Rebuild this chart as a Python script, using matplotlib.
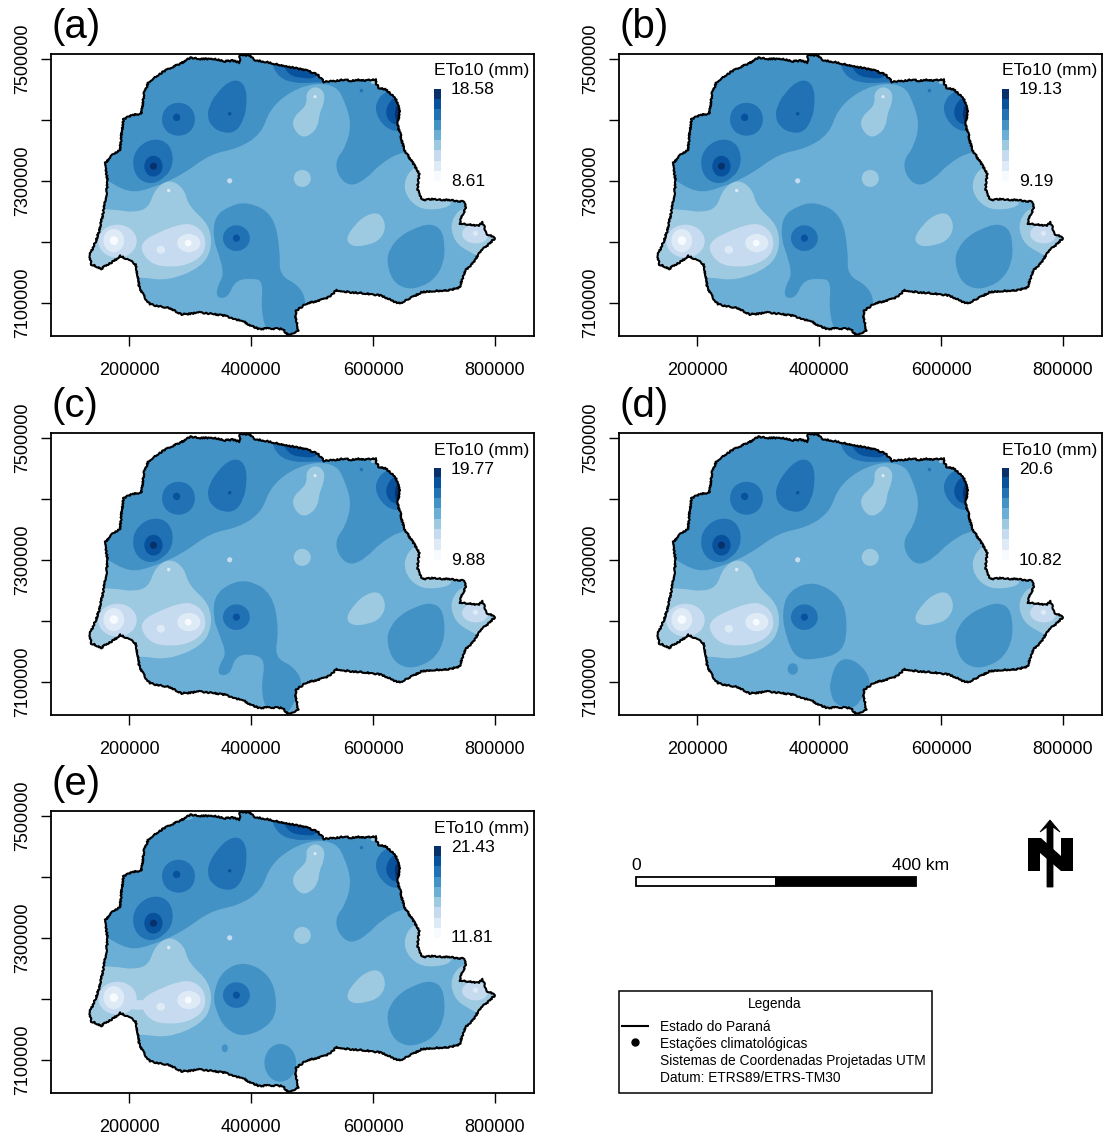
import matplotlib
matplotlib.use('Agg')
import matplotlib.pyplot as plt
from matplotlib.colors import ListedColormap
from matplotlib.path import Path
from matplotlib.patches import PathPatch, Ellipse, Rectangle, Polygon

plt.rcParams['font.family'] = ['Liberation Sans', 'DejaVu Sans']

W, H = 1103, 1135

# classes of the map, dark to light
blues = ['#08306B', '#08519C', '#2171B5', '#4292C6', '#6BAED6', '#9ECAE1', '#C6DBEF', '#DEEBF7', '#F7FBFF']
BASE, DARK5, DARK6, DARK7, DARK8 = blues[4], blues[3], blues[2], blues[1], blues[0]
LIGHT4, LIGHT3, LIGHT2, LIGHT1 = blues[5], blues[6], blues[7], blues[8]

panel_tags = ['(a)', '(b)', '(c)', '(d)', '(e)']
panel_max = ['18.58', '19.13', '19.77', '20.6', '21.43']
panel_min = ['8.61', '9.19', '9.88', '10.82', '11.81']
panel_left = [51, 619, 51, 619, 51]
panel_top = [54, 54, 433, 433, 811]
x_ticks = [200000, 400000, 600000, 800000]
y_ticks = [7100000, 7200000, 7300000, 7400000, 7500000]
y_labels = ['7100000', '', '7300000', '', '7500000']

# everything below is in km
parana = [(287,7494),(301,7502),(317,7500),(333,7500),(345,7499),(356,7496),(370,7497),(381,7494),(382,7507),(392,7506),
          (399,7505),(404,7499),(411,7497),(425,7495),(442,7491),(458,7488),(477,7484),(495,7480),(509,7474),(515,7468),
          (520,7462),(530,7464),(540,7464),(552,7466),(564,7464),(576,7466),(587,7464),(597,7466),(605,7466),(606,7458),
          (610,7452),(620,7450),(627,7445),(634,7438),(639,7431),(642,7420),(644,7410),(641,7398),(641,7388),(645,7376),
          (647,7366),(652,7350),(659,7339),(668,7325),(676,7311),(674,7300),(673,7287),(676,7277),(682,7268),(695,7270),
          (713,7269),(728,7268),(748,7266),(753,7257),(746,7243),(742,7229),(750,7229),(762,7228),(772,7226),(780,7232),
          (783,7222),(786,7213),(793,7210),(800,7206),(790,7196),(780,7188),(772,7178),(763,7164),(751,7153),(746,7138),
          (742,7125),(727,7121),(713,7120),(695,7119),(679,7117),(662,7108),(644,7099),(636,7101),(627,7106),(612,7112),
          (598,7114),(580,7116),(564,7117),(550,7119),(540,7121),(534,7114),(526,7109),(513,7104),(500,7101),(487,7096),
          (474,7087),(472,7077),(475,7068),(477,7054),(468,7050),(460,7047),(452,7057),(430,7058),(413,7057),(400,7062),
          (390,7068),(372,7074),(356,7079),(335,7082),(315,7084),(300,7082),(286,7081),(275,7087),(263,7092),(245,7095),
          (234,7098),(226,7108),(217,7125),(213,7150),(211,7163),(200,7170),(185,7177),(180,7172),(171,7166),(160,7160),
          (154,7155),(146,7160),(138,7163),(135,7177),(145,7200),(151,7218),(157,7245),(162,7273),(165,7300),(160,7328),
          (175,7345),(185,7350),(188,7380),(191,7401),(205,7408),(220,7410),(225,7445),(232,7462),(245,7472),(258,7480),
          (272,7487)]

north_band = [(120,7325),(160,7303),(200,7280),(235,7287),(286,7309),(333,7344),(379,7353),(417,7377),(431,7418),(465,7447),
              (506,7461),(540,7455),(553,7432),(565,7393),(555,7355),(538,7333),(543,7307),(563,7290),(590,7304),(612,7328),
              (650,7350),(720,7350),(720,7540),(100,7540)]
blob_west = [(310,7401),(302,7422),(281,7430),(260,7422),(252,7401),(260,7380),(281,7372),(302,7380)]
blob_mid = [(328,7405),(332,7425),(345,7445),(362,7462),(380,7466),(392,7452),(393,7425),(388,7400),(375,7380),(355,7378),(336,7388)]
blob_big = [(205,7325),(210,7350),(232,7368),(258,7367),(272,7348),(271,7322),(258,7305),(238,7294),(215,7302)]
ne_outer = [(603,7415),(608,7435),(622,7447),(645,7455),(670,7420),(660,7385),(635,7380),(615,7392)]
ne_inner = [(620,7415),(630,7435),(650,7440),(660,7400),(640,7390),(625,7398)]
top_outer = [(432,7495),(445,7470),(470,7460),(500,7461),(530,7462),(530,7500),(450,7510)]
top_inner = [(450,7495),(462,7473),(485,7468),(510,7468),(510,7500)]
se_blob = [(622,7168),(628,7190),(645,7210),(668,7222),(692,7230),(712,7222),(718,7195),(716,7165),(702,7140),(680,7126),(655,7122),(632,7135)]
streak = [(468,7388),(470,7405),(484,7417),(492,7428),(490,7445),(505,7456),(521,7446),(519,7425),(512,7410),(510,7390),(498,7375),(482,7371)]
mid_east = [(555,7205),(570,7228),(590,7245),(612,7248),(622,7225),(612,7203),(590,7194),(565,7192)]
east_lobe = [(680,7330),(655,7312),(650,7282),(672,7255),(705,7252),(735,7262),(710,7290)]
far_east = [(752,7262),(726,7235),(733,7200),(758,7183),(782,7172),(810,7206),(800,7250)]
far_east_in = [(742,7215),(762,7232),(792,7220),(785,7198),(755,7197)]
west_light = [(120,7130),(115,7255),(178,7253),(206,7248),(232,7255),(242,7286),(266,7303),(290,7288),(298,7258),(332,7228),
              (336,7188),(318,7158),(264,7136),(220,7142),(205,7140),(150,7130)]
west_mid = [(218,7188),(226,7204),(250,7216),(280,7228),(305,7230),(325,7212),(325,7182),(300,7163),(265,7158),(235,7164)]

center_ab = [(338,7205),(340,7240),(362,7258),(395,7266),(437,7245),(448,7185),(446,7145),(480,7128),(492,7098),(478,7068),
             (470,7035),(428,7045),(416,7087),(420,7136),(402,7140),(374,7137),(362,7108),(343,7108),(345,7128),(356,7146),(347,7180)]
center_c = [(338,7205),(340,7240),(362,7260),(395,7268),(435,7245),(446,7185),(438,7140),(470,7125),(486,7098),(472,7068),
            (455,7040),(425,7050),(416,7090),(424,7136),(402,7146),(374,7142),(366,7112),(346,7110),(348,7128),(360,7146),(347,7180)]
center_d = [(339,7213),(350,7250),(393,7266),(438,7238),(447,7195),(440,7148),(393,7136),(362,7138),(346,7173)]
south_d = [(418,7099),(428,7132),(449,7140),(475,7122),(486,7096),(472,7075),(456,7054),(425,7063),(418,7086)]
center_e = [(338,7208),(352,7246),(390,7262),(430,7240),(443,7200),(437,7160),(390,7136),(358,7150),(342,7181)]

# (level colour, x, y, width, height)
ovals = [(DARK6, 376, 7206, 44, 42), (DARK7, 240, 7324, 30, 34), (DARK8, 641, 7410, 10, 28),
         (LIGHT4, 484, 7304, 28, 28),
         (LIGHT3, 181, 7201, 63, 54), (LIGHT2, 175, 7202, 34, 38), (LIGHT1, 175, 7202, 14, 14)]
ovals_late = [(LIGHT2, 298, 7198, 38, 30), (LIGHT2, 252, 7187, 14, 13), (LIGHT1, 297, 7198, 11, 11)]
panel_ovals = {'(d)': [(DARK5, 357, 7121, 17, 19)],
               '(e)': [(DARK5, 448, 7095, 52, 62), (DARK5, 357, 7119, 10, 13), (LIGHT3, 215, 7190, 42, 16), (BASE, 292, 7497, 26, 8)]}

# stations that show as specks (x, y, colour, size)
spot_x = [278, 365, 581, 240, 376, 365, 265, 505, 600, 768]
spot_y = [7404, 7410, 7448, 7324, 7206, 7300, 7284, 7438, 7463, 7214]
spot_c = [DARK7, DARK7, DARK6, DARK8, DARK7, LIGHT3, LIGHT2, LIGHT2, LIGHT4, LIGHT2]
spot_s = [28, 6, 6, 26, 26, 14, 6, 5, 14, 14]

centers = {'(a)': [center_ab], '(b)': [center_ab], '(c)': [center_c], '(d)': [center_d, south_d], '(e)': [center_e]}


def km(pts):
    return [(x * 1000, y * 1000) for x, y in pts]


def smooth_path(pts):
    # closed path, the read points act as curve controls
    pts = km(pts)
    n = len(pts)
    mid = [((pts[i][0] + pts[(i + 1) % n][0]) / 2, (pts[i][1] + pts[(i + 1) % n][1]) / 2) for i in range(n)]
    verts = [mid[-1]]
    codes = [Path.MOVETO]
    for i in range(n):
        verts += [pts[i], mid[i]]
        codes += [Path.CURVE3, Path.CURVE3]
    return Path(verts, codes)


def make_map(ax, tag):
    state = Polygon(km(parana), closed=True, facecolor=BASE, edgecolor='none', zorder=1)
    ax.add_patch(state)

    def area(pts, colour):
        p = PathPatch(smooth_path(pts), facecolor=colour, edgecolor='none', zorder=2)
        ax.add_patch(p)
        p.set_clip_path(state)

    def oval(item):
        colour, x, y, w, h = item
        p = Ellipse((x * 1000, y * 1000), w * 1000, h * 1000, facecolor=colour, edgecolor='none', zorder=2)
        ax.add_patch(p)
        p.set_clip_path(state)

    area(north_band, DARK5)
    for c in centers[tag]:
        area(c, DARK5)
    area(se_blob, DARK5)
    for b in [blob_west, blob_mid, blob_big, ne_outer, top_outer]:
        area(b, DARK6)
    for b in [ne_inner, top_inner]:
        area(b, DARK7)
    for b in [streak, mid_east, east_lobe, far_east, west_light]:
        area(b, LIGHT4)
    for item in ovals:
        oval(item)
    area(far_east_in, LIGHT3)
    area(west_mid, LIGHT3)
    for item in panel_ovals.get(tag, []):
        oval(item)
    for item in ovals_late:
        oval(item)

    sc = ax.scatter([v * 1000 for v in spot_x], [v * 1000 for v in spot_y], c=spot_c, s=spot_s, linewidths=0, zorder=3)
    sc.set_clip_path(state)

    edge_x = [p[0] * 1000 for p in parana] + [parana[0][0] * 1000]
    edge_y = [p[1] * 1000 for p in parana] + [parana[0][1] * 1000]
    line, = ax.plot(edge_x, edge_y, color='black', lw=1.5, zorder=4, solid_joinstyle='round')
    line.set_sketch_params(0.7, 3, 3)


fig = plt.figure(figsize=(W / 100, H / 100), dpi=100)

for i, tag in enumerate(panel_tags):
    l, t = panel_left[i], panel_top[i]
    ax = fig.add_axes([l / W, 1 - (t + 282) / H, 483 / W, 282 / H])
    make_map(ax, tag)
    ax.set_xlim(72000, 864000)
    ax.set_ylim(7045500, 7508000)
    ax.set_xticks(x_ticks)
    ax.set_yticks(y_ticks)
    ax.set_yticklabels(y_labels, rotation=90, va='center')
    ax.tick_params(axis='x', length=7, width=1, labelsize=13, pad=12)
    ax.tick_params(axis='y', length=7, width=1, labelsize=13, pad=7)
    for s in ax.spines.values():
        s.set_linewidth(1.3)
    fig.text((l + 1) / W, 1 - (t - 27) / H, tag, fontsize=29, va='center', ha='left')
    fig.text((l + 383) / W, 1 - (t + 17) / H, 'ETo10 (mm)', fontsize=12.6, va='center', ha='left')
    fig.text((l + 400) / W, 1 - (t + 36) / H, panel_max[i], fontsize=12.6, va='center', ha='left')
    fig.text((l + 400) / W, 1 - (t + 127) / H, panel_min[i], fontsize=12.6, va='center', ha='left')
    cax = fig.add_axes([(l + 383) / W, 1 - (t + 127) / H, 7 / W, 92 / H])
    cax.imshow([[k] for k in range(9)], cmap=ListedColormap(blues), aspect='auto', interpolation='nearest')
    cax.axis('off')

# scale bar, north arrow and legend box, in figure pixels
over = fig.add_axes([0, 0, 1, 1])
over.set_xlim(0, W)
over.set_ylim(H, 0)
over.axis('off')
over.patch.set_alpha(0)

over.add_patch(Rectangle((636, 877), 140, 9, facecolor='white', edgecolor='black', lw=1.3))
over.add_patch(Rectangle((776, 877), 140, 9, facecolor='black', edgecolor='black', lw=1.3))
over.text(636, 865, '0', fontsize=12.6, ha='center', va='center')
over.text(921, 865, '400 km', fontsize=12.6, ha='center', va='center')

over.add_patch(Polygon([(1028, 838), (1041, 838), (1061, 856), (1061, 838), (1073, 838), (1073, 871), (1061, 871),
                        (1040, 853), (1040, 871), (1028, 871)], facecolor='black', edgecolor='none'))
over.add_patch(Polygon([(1047, 887), (1047, 827), (1040, 832), (1050, 820), (1060, 832), (1053, 827), (1053, 887)],
                       facecolor='black', edgecolor='black', lw=0.6))

over.add_patch(Rectangle((619, 991), 313, 102, facecolor='white', edgecolor='black', lw=1.1))
over.text(775, 1004, 'Legenda', fontsize=9.9, ha='center', va='center')
over.plot([622, 648], [1026, 1026], color='black', lw=1.5)
over.plot([635], [1042], 'o', color='black', ms=5)
legend_lines = ['Estado do Paraná', 'Estações climatológicas', 'Sistemas de Coordenadas Projetadas UTM', 'Datum: ETRS89/ETRS-TM30']
legend_y = [1027, 1044, 1061, 1078]
for txt, y in zip(legend_lines, legend_y):
    over.text(660, y, txt, fontsize=9.9, ha='left', va='center')

fig.savefig('out.png', dpi=100)
